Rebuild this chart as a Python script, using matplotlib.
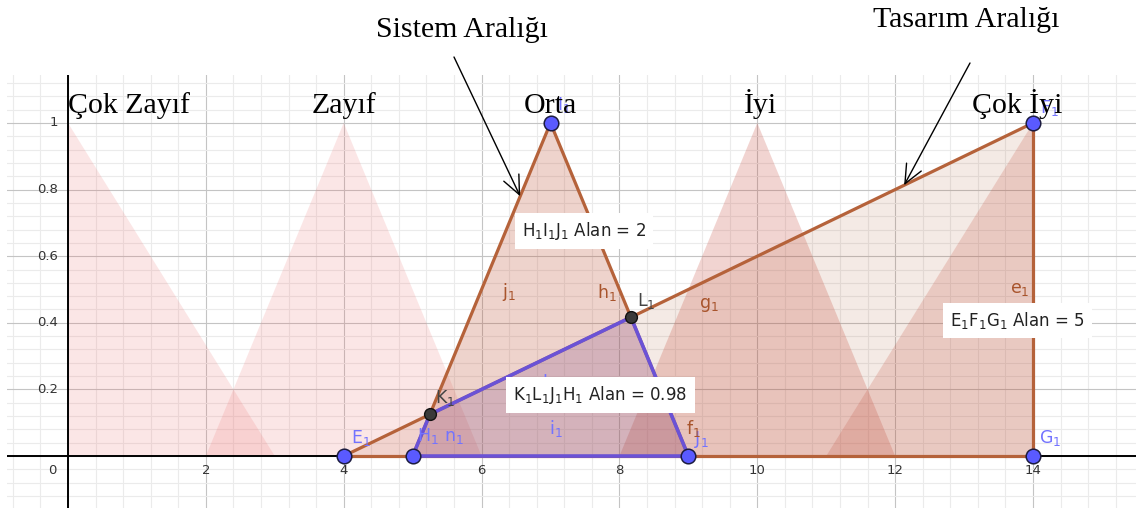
import numpy as np
import matplotlib
matplotlib.use("Agg")
import matplotlib.pyplot as plt
from matplotlib.patches import Polygon

plt.rcParams["mathtext.fontset"] = "dejavusans"
plt.rcParams["font.family"] = ["DejaVu Sans"]

# Fuzzy membership sets: left foot, peak, right foot
category_names = ["Çok Zayıf", "Zayıf", "Orta", "İyi", "Çok İyi"]
category_left = [0, 2, 5, 8, 11]
category_peak = [0, 4, 7, 10, 14]
category_right = [3, 6, 9, 12, 14]
category_label_x = [0, 4, 7, 10.04, 13.77]

# Design range triangle E1 F1 G1 and system range triangle H1 I1 J1
design_x = [4, 14, 14]
design_y = [0, 1, 0]
system_x = [5, 7, 9]
system_y = [0, 1, 0]

x_tick_values = [2, 4, 6, 8, 10, 12, 14]
y_tick_values = [0.2, 0.4, 0.6, 0.8, 1]

BROWN = "#b5623a"
BROWN_TXT = "#a8542c"
PURPLE = "#6a52d6"
BLUE_TXT = "#7373ff"
# fill of each membership set
set_colors = [(0.92, 0.4, 0.4, 0.16), (0.92, 0.4, 0.4, 0.16),
              (0.85, 0.4, 0.35, 0.16), (0.78, 0.3, 0.25, 0.24),
              (0.78, 0.3, 0.25, 0.2)]


def intersect(p1, p2, p3, p4):
    (x1, y1), (x2, y2), (x3, y3), (x4, y4) = p1, p2, p3, p4
    d = (x1 - x2) * (y3 - y4) - (y1 - y2) * (x3 - x4)
    a = x1 * y2 - y1 * x2
    b = x3 * y4 - y3 * x4
    return ((a * (x3 - x4) - (x1 - x2) * b) / d, (a * (y3 - y4) - (y1 - y2) * b) / d)


def area(xs, ys):
    xs, ys = np.asarray(xs), np.asarray(ys)
    return 0.5 * abs(np.dot(xs, np.roll(ys, -1)) - np.dot(ys, np.roll(xs, -1)))


def fmt(a):
    return f"{a:.2f}".rstrip("0").rstrip(".")


E1, F1, G1 = zip(design_x, design_y)
H1, I1, J1 = zip(system_x, system_y)
K1 = intersect(E1, F1, H1, I1)
L1 = intersect(E1, F1, I1, J1)

fig = plt.figure(figsize=(11.36, 5.08), dpi=100)
ax = fig.add_axes([7 / 1136, 0, 1 - 7 / 1136, 433 / 508])

# grid
ax.set_xticks(np.arange(-2, 17, 2))
ax.set_xticks(np.round(np.arange(-0.8, 16, 0.4), 2), minor=True)
ax.set_yticks(np.round(np.arange(-0.2, 1.3, 0.2), 2))
ax.set_yticks(np.round(np.arange(-0.16, 1.2, 0.04), 2), minor=True)
ax.set_xlim(-0.885, 15.494)
ax.set_ylim(-0.156, 1.144)
ax.grid(which="minor", color="#ebebeb", lw=0.8)
ax.grid(which="major", color="#c4c4c4", lw=0.8)
ax.set_axisbelow(True)
ax.tick_params(which="both", length=0, labelbottom=False, labelleft=False)
for s in ax.spines.values():
    s.set_visible(False)

# axes lines
ax.axhline(0, color="black", lw=1.4, zorder=2.5)
ax.axvline(0, color="black", lw=1.4, zorder=2.5)

# tick labels
for v in x_tick_values:
    ax.annotate(str(v), (v, 0), xytext=(0, -6), textcoords="offset points",
                ha="center", va="top", fontsize=9.5, color="#333333")
ax.annotate("0", (0, 0), xytext=(-11, -6), textcoords="offset points",
            ha="center", va="top", fontsize=9.5, color="#333333")
for v in y_tick_values:
    ax.annotate(f"{v:g}", (0, v), xytext=(-7, 0), textcoords="offset points",
                ha="right", va="center", fontsize=9.5, color="#333333")

# fuzzy sets
for l, p, r, c in zip(category_left, category_peak, category_right, set_colors):
    ax.add_patch(Polygon([(l, 0), (p, 1), (r, 0)], closed=True,
                         fc=c, ec="none", zorder=1))

# polygons
ax.add_patch(Polygon(list(zip(design_x, design_y)), closed=True,
                     fc=(0.6, 0.2, 0.0, 0.1), ec="none", zorder=2))
ax.add_patch(Polygon(list(zip(system_x, system_y)), closed=True,
                     fc=(0.6, 0.2, 0.0, 0.1), ec="none", zorder=2))
overlap = [K1, L1, J1, H1]
ax.add_patch(Polygon(overlap, closed=True,
                     fc=(0.4, 0.3, 0.85, 0.13), ec="none", zorder=2.2))

# segments
for a, b in [(E1, F1), (F1, G1), (G1, E1), (H1, I1), (I1, J1)]:
    ax.plot([a[0], b[0]], [a[1], b[1]], color=BROWN, lw=2.3, zorder=3,
            solid_capstyle="round")
ox = [p[0] for p in overlap] + [overlap[0][0]]
oy = [p[1] for p in overlap] + [overlap[0][1]]
ax.plot(ox, oy, color=PURPLE, lw=2.6, zorder=3.5, solid_joinstyle="round")

# points
for p in [E1, F1, G1, H1, I1, J1]:
    ax.plot(*p, "o", ms=10.5, mfc="#5a5aff", mec="#1c1c40", mew=1.1, zorder=5)
for p in [K1, L1]:
    ax.plot(*p, "o", ms=8.5, mfc="#3a3a3a", mec="#111111", mew=1.0, zorder=5)

# point and segment labels
labels = [
    (r"$\mathregular{E_1}$", 4.1, 0.04, BLUE_TXT),
    (r"$\mathregular{F_1}$", 14.1, 1.03, BLUE_TXT),
    (r"$\mathregular{G_1}$", 14.08, 0.04, BLUE_TXT),
    (r"$\mathregular{H_1}$", 5.07, 0.045, BLUE_TXT),
    (r"$\mathregular{n_1}$", 5.45, 0.045, BLUE_TXT),
    (r"$\mathregular{I_1}$", 7.1, 1.04, BLUE_TXT),
    (r"$\mathregular{J_1}$", 9.08, 0.036, BLUE_TXT),
    (r"$\mathregular{i_1}$", 6.98, 0.066, BLUE_TXT),
    (r"$\mathregular{k_1}$", 6.87, 0.205, BLUE_TXT),
    (r"$\mathregular{K_1}$", 5.33, 0.16, "#444444"),
    (r"$\mathregular{L_1}$", 8.26, 0.45, "#444444"),
    (r"$\mathregular{j_1}$", 6.3, 0.478, BROWN_TXT),
    (r"$\mathregular{h_1}$", 7.68, 0.475, BROWN_TXT),
    (r"$\mathregular{g_1}$", 9.16, 0.445, BROWN_TXT),
    (r"$\mathregular{e_1}$", 13.66, 0.488, BROWN_TXT),
    (r"$\mathregular{f_1}$", 8.97, 0.066, BROWN_TXT),
]
for t, x, y, c in labels:
    ax.text(x, y, t, color=c, fontsize=12.5, ha="left", va="baseline", zorder=6)

# area boxes
box = dict(boxstyle="square,pad=0.42", fc="white", ec="none")
ax.text(7.49, 0.676, r"$\mathregular{H_1I_1J_1}$ Alan = " + fmt(area(system_x, system_y)),
        ha="center", va="center", fontsize=12, color="#222222", bbox=box, zorder=7)
ax.text(7.725, 0.182, r"$\mathregular{K_1L_1J_1H_1}$ Alan = "
        + fmt(area([p[0] for p in overlap], [p[1] for p in overlap])),
        ha="center", va="center", fontsize=12, color="#222222", bbox=box, zorder=7)
ax.text(13.775, 0.408, r"$\mathregular{E_1F_1G_1}$ Alan = " + fmt(area(design_x, design_y)),
        ha="center", va="center", fontsize=12, color="#222222", bbox=box, zorder=7)

# category names
for i, (name, x) in enumerate(zip(category_names, category_label_x)):
    ax.text(x, 1.03, name, family="Liberation Serif", fontsize=21.5,
            ha="left" if i == 0 else "center", va="baseline", zorder=8)

# range annotations
arrow = dict(arrowstyle="->,head_length=0.68,head_width=0.3", lw=1.0,
             color="black", mutation_scale=20, shrinkA=0, shrinkB=0)
sx = 6.56
ax.annotate("", xy=(sx, (sx - 5) / 2), xycoords="data",
            xytext=(454, 451), textcoords="figure pixels",
            arrowprops=arrow, annotation_clip=False)
tx = 12.13
ax.annotate("", xy=(tx, (tx - 4) / 10), xycoords="data",
            xytext=(970, 445), textcoords="figure pixels",
            arrowprops=arrow, annotation_clip=False)
fig.text(376 / 1136, 471 / 508, "Sistem Aralığı", family="Liberation Serif",
         fontsize=21.5, ha="left", va="baseline")
fig.text(873 / 1136, 481 / 508, "Tasarım Aralığı", family="Liberation Serif",
         fontsize=21.5, ha="left", va="baseline")

fig.savefig("out.png", dpi=100)
